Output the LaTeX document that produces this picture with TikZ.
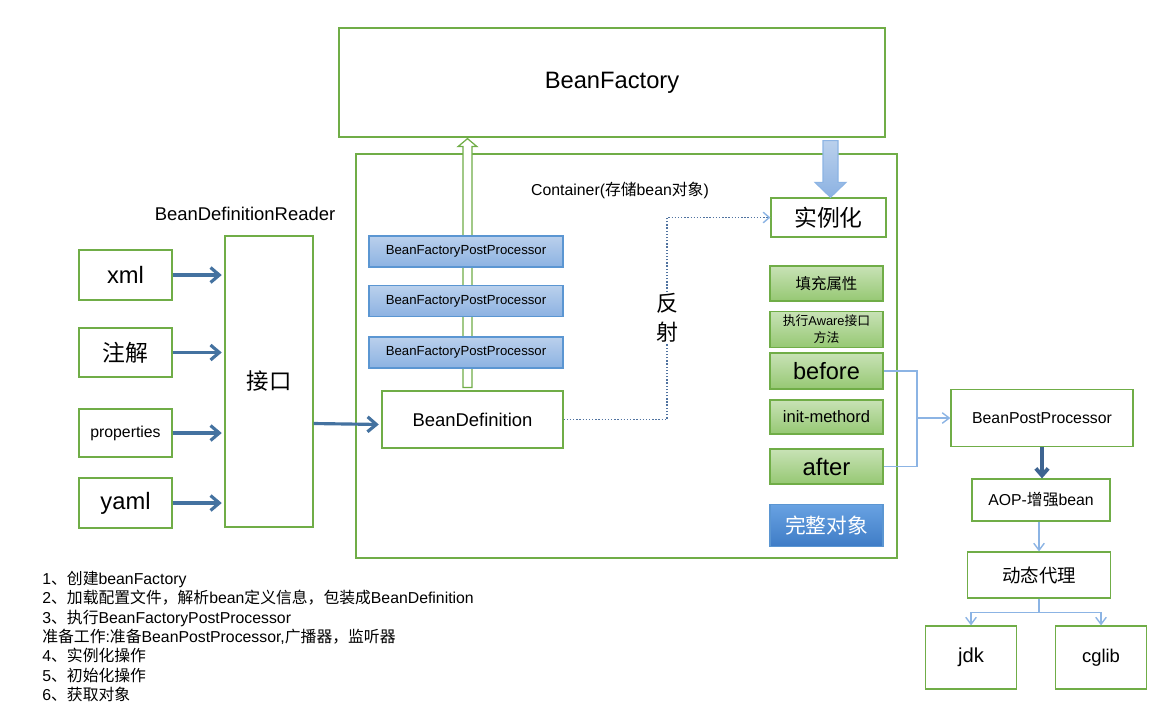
\documentclass[tikz,border=0pt]{standalone}
\usepackage{fontspec}
\setmainfont{Liberation Sans}
\newfontfamily\cjk{Noto Sans CJK SC}
\usetikzlibrary{arrows.meta,calc,positioning}
\definecolor{green}{RGB}{112, 173, 71}
\definecolor{lightgreen}{RGB}{200, 226, 182}
\definecolor{midgreen}{RGB}{150, 200, 115}
\definecolor{blue}{RGB}{91, 150, 210}
\definecolor{lightblue}{RGB}{186, 208, 236}
\definecolor{midblue}{RGB}{140, 178, 226}
\definecolor{skyblue}{RGB}{140, 180, 228}
\definecolor{brightblue}{RGB}{105, 162, 226}
\definecolor{deepblue}{RGB}{62, 124, 198}
\definecolor{steel}{RGB}{68, 114, 160}
\definecolor{darksteel}{RGB}{62, 100, 145}
\definecolor{slate}{RGB}{80, 115, 160}

\begin{document}
\begin{tikzpicture}[
        x=0.02cm, y=-0.02cm,
        every node/.style={inner sep=0pt, align=center},
        box/.style={draw=green, line width=0.7pt, fill=white},
        greenbox/.style={draw=green, line width=0.7pt,
            top color=lightgreen, bottom color=midgreen,
            minimum width=2.26cm},
        bluebox/.style={draw=blue, line width=0.7pt,
            top color=lightblue, bottom color=midblue,
            minimum width=3.88cm, minimum height=0.62cm,
            font=\fontsize{7.5}{9}\selectfont},
        feed/.style={draw=steel, line width=1.8pt, shorten >=1.5pt,
            -{Straight Barb[length=5pt,width=8.5pt]}},
        push/.style={draw=darksteel, line width=2.2pt,
            -{Straight Barb[length=4pt,width=7pt]}},
        link/.style={draw=skyblue, line width=0.8pt},
        tip/.style={-{Straight Barb[length=4pt,width=6pt]}},
        probe/.style={draw=slate, line width=0.8pt, densely dotted,
            -{Straight Barb[length=3.5pt,width=6pt,color=skyblue]}},
        hollow/.style={draw=green, line width=0.7pt, fill=white},
        drop/.style={draw=skyblue, line width=0.6pt,
            top color=lightblue, bottom color=midblue}
    ]
    \useasboundingbox (0,0) rectangle (1169,708);

    % factory and container
    \node[box, minimum width=10.92cm, minimum height=2.18cm,
        font=\fontsize{13.5}{16}\selectfont] (bf) at (612,82.5) {BeanFactory};
    \node[box, minimum width=10.82cm, minimum height=8.08cm] (ctr) at (626.5,356) {};
    \node[font=\fontsize{9}{11}\selectfont] (ctrlabel) at (620,190)
        {Container({\cjk 存储}bean{\cjk 对象})};

    % reader
    \node[font=\fontsize{10.5}{12}\selectfont] (reader) at (245,214) {BeanDefinitionReader};
    \node[box, minimum width=1.76cm, minimum height=5.82cm,
        font=\cjk\fontsize{12.75}{15}\selectfont] (iface) at (269,381.5) {接口};

    \node[box, minimum width=1.86cm, minimum height=1cm,
        font=\fontsize{13.5}{16}\selectfont] (xml) at (125.5,275) {xml};
    \node[box, minimum width=1.86cm, minimum height=0.98cm,
        font=\cjk\fontsize{13}{15}\selectfont] (anno) at (125.5,352.5) {注解};
    \node[box, minimum width=1.86cm, minimum height=0.96cm,
        font=\fontsize{9}{11}\selectfont] (props) at (125.5,433) {properties};
    \node[box, minimum width=1.86cm, minimum height=1cm,
        font=\fontsize{13.5}{16}\selectfont] (yaml) at (125.5,503) {yaml};

    \foreach \src in {xml,anno,props,yaml}
        \draw[feed] (\src.east) -- (\src.east -| iface.west);

    % definition and post processors
    \node[box, minimum width=3.62cm, minimum height=1.14cm,
        font=\fontsize{10.5}{12}\selectfont] (bd) at (472.5,419.5) {BeanDefinition};
    \draw[feed] ($(iface.east |- bd.west)+(0,4)$) -- ($(bd.west)+(0,5)$);

    \coordinate (hb) at ($(bd.north)+(-5,-3)$);
    \coordinate (ht) at (hb |- bf.south);
    \draw[hollow] ($(hb)+(-4.5,0)$) -- ($(ht)+(-4.5,9)$) -- ($(ht)+(-9.5,9)$)
        -- ($(ht)+(0,1)$) -- ($(ht)+(9.5,9)$) -- ($(ht)+(4.5,9)$)
        -- ($(hb)+(4.5,0)$) -- cycle;

    \foreach \i/\y in {1/251.5,2/301,3/352.5}
        \node[bluebox] (bfpp\i) at (466,\y) {BeanFactoryPostProcessor};

    % bean life cycle
    \node[box, minimum width=2.3cm, minimum height=0.78cm,
        font=\cjk\fontsize{13}{15}\selectfont] (inst) at (828.5,217.5) {实例化};

    \coordinate (dt) at ($(inst.north)+(2,0)$);
    \coordinate (ds) at (dt |- bf.south);
    \draw[drop] ($(ds)+(-7.5,3)$) -- ($(dt)+(-7.5,-15)$) -- ($(dt)+(-15.5,-15)$)
        -- (dt) -- ($(dt)+(15.5,-15)$) -- ($(dt)+(7.5,-15)$)
        -- ($(ds)+(7.5,3)$) -- cycle;

    \node[greenbox, minimum height=0.7cm,
        font=\cjk\fontsize{8.8}{10}\selectfont] (fill) at (826.5,283.5) {填充属性};
    \node[greenbox, minimum height=0.72cm,
        font=\fontsize{7.3}{9.6}\selectfont] (aware) at (826.5,329.5)
        {{\cjk 执行}Aware{\cjk 接口}\\{\cjk 方法}};
    \node[greenbox, minimum height=0.72cm,
        font=\fontsize{13.4}{16}\selectfont] (before) at (826.5,371) {before};
    \node[greenbox, minimum height=0.68cm,
        font=\fontsize{9.4}{11}\selectfont] (init) at (826.5,417) {init-methord};
    \node[greenbox, minimum height=0.7cm,
        font=\fontsize{13.6}{16}\selectfont] (after) at (826.5,466.5) {after};
    \node[draw=blue, line width=0.7pt, top color=brightblue, bottom color=deepblue,
        minimum width=2.26cm, minimum height=0.84cm, text=white,
        font=\cjk\fontsize{11.8}{14}\selectfont] (whole) at (826.5,525.5) {完整对象};

    % reflection
    \coordinate (refl) at (667,318);
    \draw[probe] (bd.east) -| (refl) |- (inst.west);
    \node[fill=white, inner sep=1pt,
        font=\cjk\fontsize{12.5}{16.5}\selectfont] (reflect) at (refl) {反\\射};

    % post processor and proxies
    \node[box, minimum width=3.64cm, minimum height=1.13cm,
        font=\fontsize{9}{11}\selectfont] (bpp) at (1042,418) {BeanPostProcessor};
    \coordinate (jn) at (917,418);
    \draw[link] (before.east) -| (jn) |- (after.east);
    \draw[link, tip] (jn) -- (bpp.west);

    \node[box, minimum width=2.76cm, minimum height=0.84cm,
        font=\fontsize{9}{11}\selectfont] (aop) at (1041,500) {AOP-{\cjk 增强}bean};
    \draw[push] (bpp.south) -- (bpp.south |- aop.north);

    \node[box, minimum width=2.86cm, minimum height=0.92cm,
        font=\cjk\fontsize{10.5}{12}\selectfont] (proxy) at (1039,575) {动态代理};
    \draw[link, tip] (aop.south -| proxy.south) -- (proxy.north);

    \node[box, minimum width=1.82cm, minimum height=1.26cm,
        font=\fontsize{11.5}{13}\selectfont] (jdk) at (971,657.5) {jdk};
    \node[box, minimum width=1.82cm, minimum height=1.26cm,
        font=\fontsize{10.5}{12}\selectfont] (cglib) at (1101,657.5) {cglib};
    \foreach \t in {jdk,cglib}
        \draw[link, tip] (proxy.south) -- ++(0,14) -| (\t.north);

    % steps
    \node[anchor=north west, align=left, font=\fontsize{9}{11}\selectfont] (steps) at (42,571)
        {1{\cjk 、创建}beanFactory\\
         2{\cjk 、加载配置文件，解析}bean{\cjk 定义信息，包装成}BeanDefinition\\
         3{\cjk 、执行}BeanFactoryPostProcessor\\
         {\cjk 准备工作}:{\cjk 准备}BeanPostProcessor,{\cjk 广播器，监听器}\\
         4{\cjk 、实例化操作}\\
         5{\cjk 、初始化操作}\\
         6{\cjk 、获取对象}};
\end{tikzpicture}
\end{document}
